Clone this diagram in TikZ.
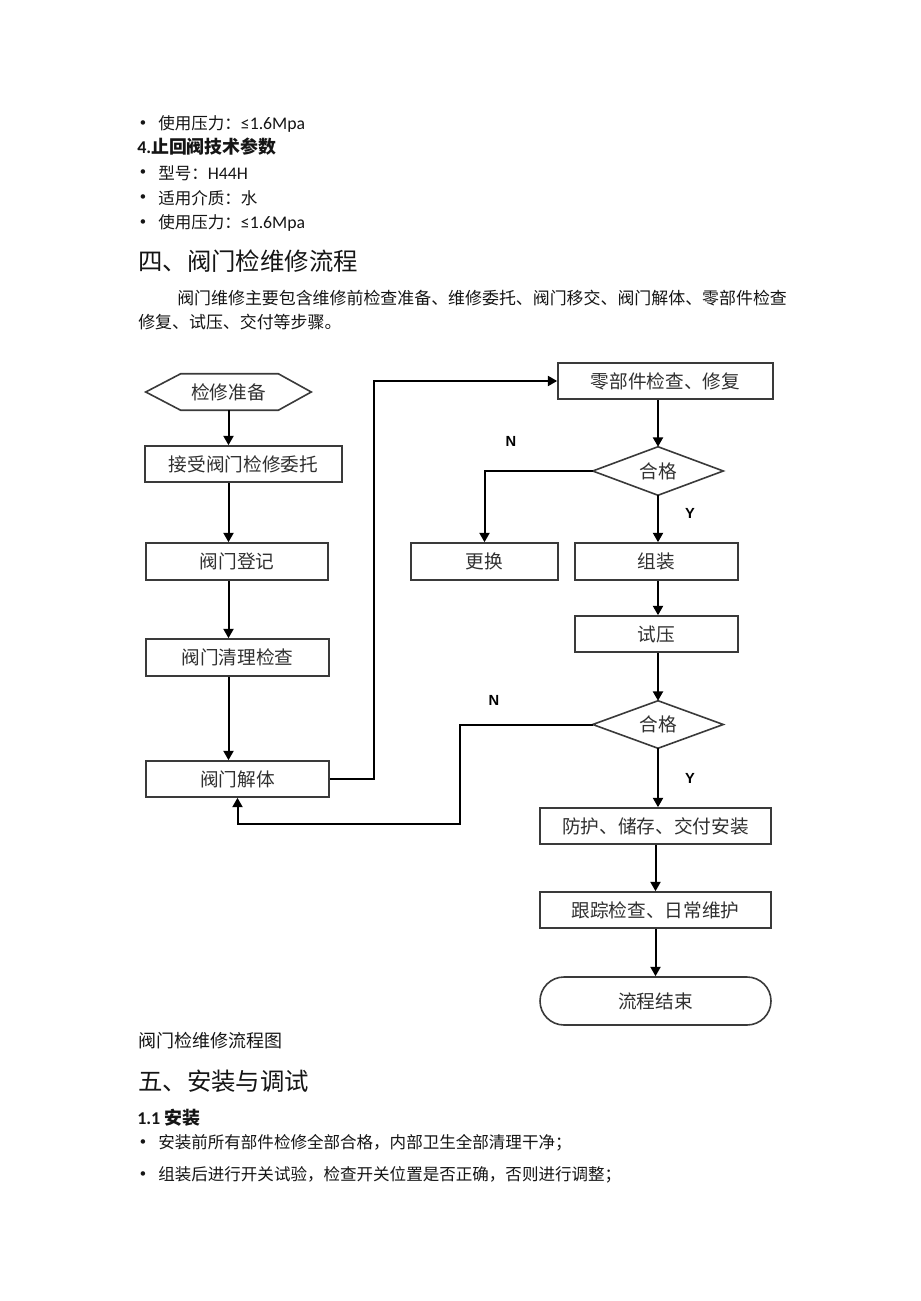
\documentclass[tikz,border=0pt]{standalone}
\usepackage{fontspec}
\setmainfont{Carlito}
\newfontfamily\cjk{Noto Sans CJK SC}
\newfontfamily\carl{Carlito}
\newfontfamily\arialfont{Liberation Sans}
\usetikzlibrary{arrows.meta,calc}
\definecolor{ink}{HTML}{151515}
\definecolor{boxline}{HTML}{3A3A3A}
\definecolor{boxtext}{HTML}{303030}
\newcommand{\boxfont}{\cjk\fontsize{14}{16}\selectfont}
\newcommand{\bulfont}{\cjk\fontsize{12.4}{15}\selectfont}
\newcommand{\latfont}{\carl\fontsize{13.3}{15}\selectfont}
\begin{document}
\begin{tikzpicture}[x=0.75pt,y=-0.75pt,
  txt/.style={anchor=west,inner sep=0pt,text=ink},
  dot/.style={inner sep=0pt,text=ink,font=\carl\fontsize{9.5}{11}\selectfont},
  box/.style={draw=boxline,line width=1.2pt,text=boxtext,font=\boxfont,inner sep=0pt},
  shp/.style={inner sep=0pt,text=boxtext,font=\boxfont},
  outline/.style={draw=boxline,line width=1.2pt},
  arr/.style={draw=black,line width=1.5pt,-{Triangle[length=7pt,width=7.5pt]}},
  lab/.style={inner sep=0pt,text=black,font=\arialfont\bfseries\fontsize{11}{13}\selectfont}]
\useasboundingbox (0,0) rectangle (920,1301);
\fill[white] (0,0) rectangle (920,1301);

% ---- top text ----
\node[dot] (d0) at (143,124) {•};
\node[txt] (l0) at (158,124) {\bulfont 使用压力：\latfont ≤1.6Mpa};
\node[txt] (h4) at (137,147) {\carl\bfseries\fontsize{13.5}{15}\selectfont 4.\cjk\bfseries\fontsize{13.4}{15}\selectfont 止回阀技术参数};
\node[dot] (d1b) at (143,173) {•};
\node[txt] (l1) at (158,173) {\bulfont 型号：\latfont H44H};
\node[dot] (d2b) at (143,198) {•};
\node[txt] (l2) at (158,198) {\bulfont 适用介质：水};
\node[dot] (d3b) at (143,223) {•};
\node[txt] (l3) at (158,223) {\bulfont 使用压力：\latfont ≤1.6Mpa};
\node[txt] (sec4) at (138,261) {\cjk\fontsize{18.3}{22}\selectfont 四、阀门检维修流程};
\node[txt] (p1) at (177,298) {\cjk\fontsize{12.7}{15}\selectfont 阀门维修主要包含维修前检查准备、维修委托、阀门移交、阀门解体、零部件检查};
\node[txt] (p2) at (138,322) {\cjk\fontsize{12.7}{15}\selectfont 修复、试压、交付等步骤。};

% ---- flowchart nodes ----
\node[shp, minimum width=123.75pt, minimum height=27pt] (prep) at (228.5,392) {检修准备};
\draw[outline] (prep.west) -- ($(prep.north west)+(35,0)$) -- ($(prep.north east)+(-33,0)$) -- (prep.east) -- ($(prep.south east)+(-33,0)$) -- ($(prep.south west)+(35,0)$) -- cycle;
\node[box, minimum width=147.75pt, minimum height=27pt] (recv) at (243.5,464) {接受阀门检修委托};
\node[box, minimum width=136.5pt, minimum height=27.75pt] (reg) at (237,561.5) {阀门登记};
\node[box, minimum width=137.25pt, minimum height=27.75pt] (clean) at (237.5,657.5) {阀门清理检查};
\node[box, minimum width=137.25pt, minimum height=27pt] (dis) at (237.5,779) {阀门解体};

\node[box, minimum width=161.25pt, minimum height=27pt] (parts) at (665.5,381) {零部件检查、修复};
\node[shp, minimum width=97.5pt, minimum height=36pt] (q1) at (658,471) {合格};
\draw[outline] (q1.west) -- (q1.north) -- (q1.east) -- (q1.south) -- cycle;
\node[box, minimum width=110.25pt, minimum height=27.75pt] (replace) at (484.5,561.5) {更换};
\node[box, minimum width=122.25pt, minimum height=27.75pt] (assemble) at (656.5,561.5) {组装};
\node[box, minimum width=122.25pt, minimum height=27pt] (test) at (656.5,634) {试压};
\node[shp, minimum width=97.5pt, minimum height=35.25pt] (q2) at (658,724.5) {合格};
\draw[outline] (q2.west) -- (q2.north) -- (q2.east) -- (q2.south) -- cycle;
\node[box, minimum width=173.25pt, minimum height=27pt] (protect) at (655.5,826) {防护、储存、交付安装};
\node[box, minimum width=173.25pt, minimum height=27pt] (track) at (655.5,910) {跟踪检查、日常维护};
\node[box, rounded corners=18pt, minimum width=173.25pt, minimum height=36pt] (finish) at (655.5,1001) {流程结束};

% ---- labels ----
\node[lab] (n1) at (511,441) {N};
\node[lab] (y1) at (690,513) {Y};
\node[lab] (n2) at (494,700) {N};
\node[lab] (y2) at (690,778) {Y};

% ---- connectors ----
\draw[arr] (prep.south) -- (prep.south |- recv.north);
\draw[arr] (recv.south -| prep.south) -- (reg.north -| prep.south);
\draw[arr] (reg.south -| prep.south) -- (clean.north -| prep.south);
\draw[arr] (clean.south -| prep.south) -- (dis.north -| prep.south);
\draw[arr] (dis.east) -- ++(44,0) |- (parts.west);
\draw[arr] (parts.south -| q1.north) -- (q1.north);
\draw[arr] (q1.south) -- (assemble.north -| q1.south);
\draw[arr] (q1.west) -| (replace.north);
\draw[arr] (assemble.south -| q1.south) -- (test.north -| q1.south);
\draw[arr] (test.south -| q2.north) -- (q2.north);
\draw[arr] (q2.south) -- (protect.north -| q2.south);
\coordinate (ret) at (460,824);
\draw[arr] (q2.west) -| (ret) -- (ret -| dis.south) -- (dis.south);
\draw[arr] (protect.south) -- (track.north);
\draw[arr] (track.south) -- (finish.north);

% ---- bottom text ----
\node[txt] (cap) at (138,1041) {\cjk\fontsize{13.5}{16}\selectfont 阀门检维修流程图};
\node[txt] (sec5) at (138,1081) {\cjk\fontsize{18.3}{22}\selectfont 五、安装与调试};
\node[txt] (h11) at (137,1118) {\carl\bfseries\fontsize{13.5}{15}\selectfont 1.1 \cjk\bfseries\fontsize{13.4}{15}\selectfont 安装};
\node[dot] (d4b) at (143,1143) {•};
\node[txt] (l4) at (158,1143) {\bulfont 安装前所有部件检修全部合格，内部卫生全部清理干净；};
\node[dot] (d5b) at (143,1175) {•};
\node[txt] (l5) at (158,1175) {\bulfont 组装后进行开关试验，检查开关位置是否正确，否则进行调整；};
\end{tikzpicture}
\end{document}
